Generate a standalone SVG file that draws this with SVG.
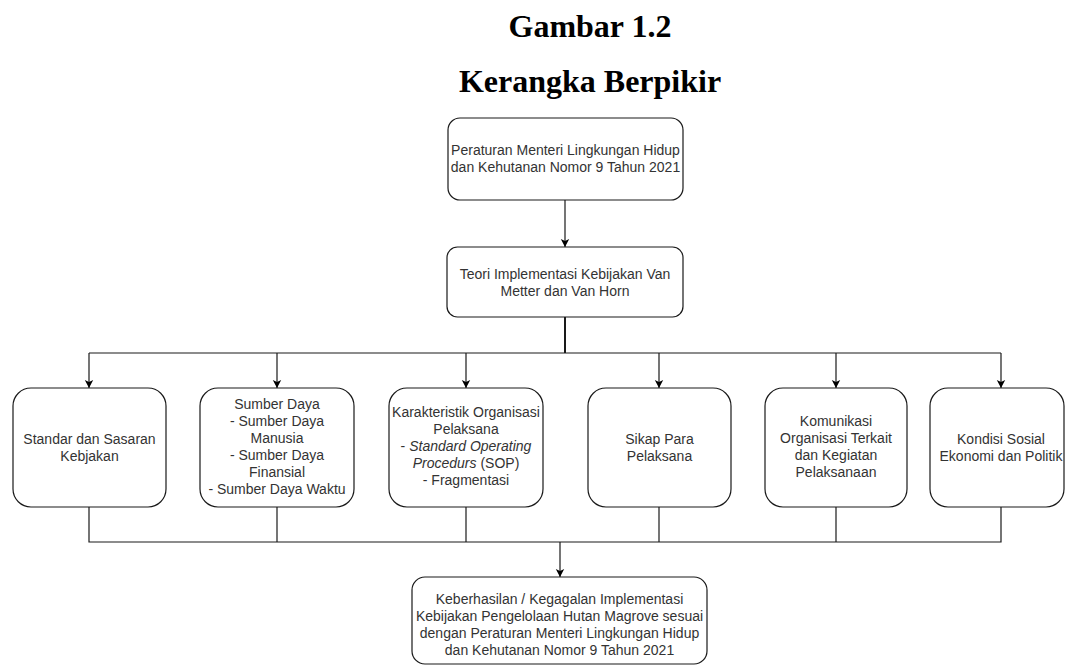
<svg xmlns="http://www.w3.org/2000/svg" width="1066" height="666" viewBox="0 0 1066 666">
<style>
.title{font-family:"Liberation Serif","Times New Roman",serif;font-weight:bold;font-size:32px;fill:#000;text-anchor:middle}
.box{fill:#fff;stroke:#1a1a1a;stroke-width:1.2}
.t{font-family:"Liberation Sans",Arial,sans-serif;font-size:14px;fill:#333;text-anchor:middle}
.ln{fill:none;stroke:#1a1a1a;stroke-width:1.2}
.ar{fill:none;stroke:#1a1a1a;stroke-width:1.2;marker-end:url(#arr)}
</style>
<defs>
<marker id="arr" markerUnits="userSpaceOnUse" markerWidth="10" markerHeight="10" refX="9" refY="5" orient="auto" viewBox="0 0 10 10">
<path d="M1,0.8 L9,5 L1,9.2 L3,5 Z" fill="#000"/>
</marker>
</defs>
<rect width="1066" height="666" fill="#fff"/>
<text class="title" x="590" y="37">Gambar 1.2</text>
<text class="title" x="590" y="92">Kerangka Berpikir</text>

<g id="connectors">
<path class="ar" d="M565,200 L565,247"/>
<path class="ln" d="M565,317 L565,353" style="stroke-width:2"/>
<path class="ln" d="M89,353 L1001,353"/>
<path class="ar" d="M89,353 L89,388"/>
<path class="ar" d="M277,353 L277,388"/>
<path class="ar" d="M466,353 L466,388"/>
<path class="ar" d="M659,353 L659,388"/>
<path class="ar" d="M836,353 L836,388"/>
<path class="ar" d="M1001,353 L1001,388"/>
<path class="ln" d="M89,507 L89,542 L1001,542 L1001,507"/>
<path class="ln" d="M277,507 L277,542"/>
<path class="ln" d="M466,507 L466,542"/>
<path class="ln" d="M659,507 L659,542"/>
<path class="ln" d="M836,507 L836,542"/>
<path class="ar" d="M560,542 L560,577"/>
</g>

<g id="peraturan">
<rect class="box" x="448" y="118" width="235" height="82" rx="12"/>
<text class="t" x="565.5" y="155">Peraturan Menteri Lingkungan Hidup</text>
<text class="t" x="565.5" y="172">dan Kehutanan Nomor 9 Tahun 2021</text>
</g>

<g id="teori">
<rect class="box" x="447" y="247" width="236" height="70" rx="10.5"/>
<text class="t" x="565" y="279">Teori Implementasi Kebijakan Van</text>
<text class="t" x="565" y="296">Metter dan Van Horn</text>
</g>

<g id="standar">
<rect class="box" x="13" y="388" width="153" height="119" rx="18"/>
<text class="t" x="89.5" y="444">Standar dan Sasaran</text>
<text class="t" x="89.5" y="461">Kebjakan</text>
</g>

<g id="sumberdaya">
<rect class="box" x="200" y="388" width="154" height="119" rx="18"/>
<text class="t" x="277" y="409">Sumber Daya</text>
<text class="t" x="277" y="426">- Sumber Daya</text>
<text class="t" x="277" y="443">Manusia</text>
<text class="t" x="277" y="460">- Sumber Daya</text>
<text class="t" x="277" y="477">Finansial</text>
<text class="t" x="277" y="494">- Sumber Daya Waktu</text>
</g>

<g id="karakteristik">
<rect class="box" x="389" y="388" width="154" height="119" rx="18"/>
<text class="t" x="466" y="417">Karakteristik Organisasi</text>
<text class="t" x="466" y="434">Pelaksana</text>
<text class="t" x="466" y="451">- <tspan font-style="italic">Standard Operating</tspan></text>
<text class="t" x="466" y="468"><tspan font-style="italic">Procedurs</tspan> (SOP)</text>
<text class="t" x="466" y="485">- Fragmentasi</text>
</g>

<g id="sikap">
<rect class="box" x="588" y="388" width="143" height="119" rx="18"/>
<text class="t" x="659.5" y="444">Sikap Para</text>
<text class="t" x="659.5" y="461">Pelaksana</text>
</g>

<g id="komunikasi">
<rect class="box" x="765" y="388" width="142" height="119" rx="18"/>
<text class="t" x="836" y="426">Komunikasi</text>
<text class="t" x="836" y="443">Organisasi Terkait</text>
<text class="t" x="836" y="460">dan Kegiatan</text>
<text class="t" x="836" y="477">Pelaksanaan</text>
</g>

<g id="kondisi">
<rect class="box" x="930" y="388" width="134" height="119" rx="18"/>
<text class="t" x="1001" y="444">Kondisi Sosial</text>
<text class="t" x="1001" y="461">Ekonomi dan Politik</text>
</g>

<g id="keberhasilan">
<rect class="box" x="412" y="577" width="295" height="87" rx="13"/>
<text class="t" x="559.5" y="604">Keberhasilan / Kegagalan Implementasi</text>
<text class="t" x="559.5" y="621">Kebijakan Pengelolaan Hutan Magrove sesuai</text>
<text class="t" x="559.5" y="638">dengan Peraturan Menteri Lingkungan Hidup</text>
<text class="t" x="559.5" y="655">dan Kehutanan Nomor 9 Tahun 2021</text>
</g>
</svg>
